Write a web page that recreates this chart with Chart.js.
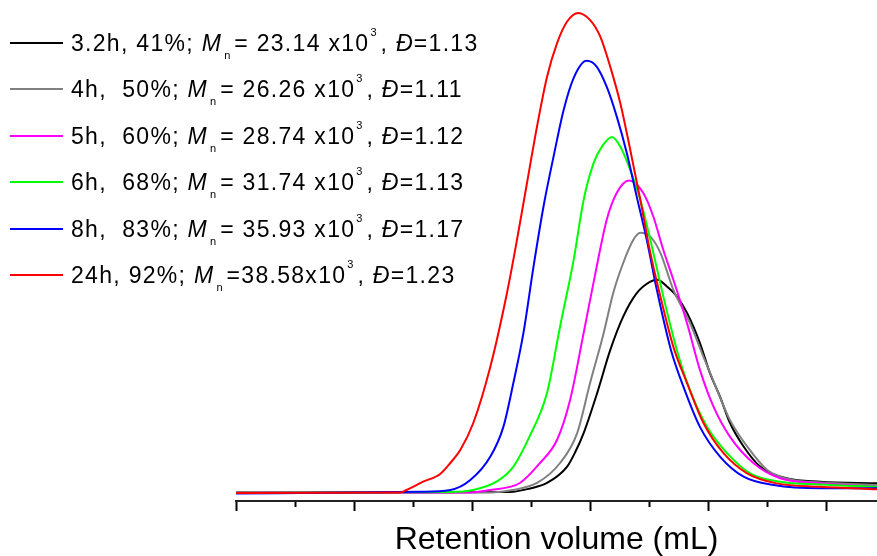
<!DOCTYPE html>
<html>
<head>
<meta charset="utf-8">
<script src="https://cdn.jsdelivr.net/npm/chart.js@4.4.1/dist/chart.umd.min.js"></script>
<style>
  html, body { margin: 0; padding: 0; background: #fff; }
  #wrap { position: relative; width: 877px; height: 556px; }
  #legend { position: absolute; left: 0; top: 0; font-family: "Liberation Sans", Arial, sans-serif; font-size: 23px; color: #000; }
  .row { position: absolute; left: 0; height: 23px; line-height: 23px; white-space: pre; }
  .swatch { position: absolute; left: 10px; top: 10px; width: 53px; height: 2px; }
  .txt { position: absolute; left: 71px; top: 0; letter-spacing: 1.3px; }
  .sub { position: relative; top: 8px; font-size: 11px; font-style: normal; letter-spacing: 0; margin-left: 2px; margin-right: 4px; }
  .sup { position: relative; top: -15px; font-size: 11px; letter-spacing: 0; margin-left: 1px; margin-right: 4px; }
</style>
</head>
<body>
<div id="wrap">
  <canvas id="myChart"></canvas>
  <div id="legend"></div>
</div>
<script>
const chart = document.querySelector("#myChart");

// series 1: 3.2 h
const vol32h = [10.0, 14.64, 14.98, 15.27, 15.61, 15.75, 15.89, 16.12, 16.34, 16.56, 16.79, 17.02, 17.14, 17.30, 17.47, 17.64, 17.86, 18.03, 18.20, 18.37, 18.60, 18.88, 19.33, 19.90, 20.86];
const sig32h = [-0.1, 0, 0.73, 1.88, 5.3, 8.4, 12.3, 20.7, 29.6, 36.6, 41.5, 43.9, 44.3, 42.9, 40.8, 37.4, 31.1, 24.8, 19.9, 14.4, 9.5, 5.3, 2.86, 2.15, 1.82];

// series 2: 4 h
const vol4h = [10.0, 14.31, 14.69, 15.10, 15.49, 15.78, 16.0, 16.23, 16.39, 16.56, 16.73, 16.85, 17.02, 17.19, 17.41, 17.69, 17.92, 18.15, 18.37, 18.66, 19.0, 19.44, 19.90, 20.86];
const sig4h = [-0.2, -0.1, 0.42, 1.88, 6.05, 12.3, 22.8, 33.2, 41.5, 47.8, 52.6, 54.1, 53.3, 49.9, 42.2, 35.3, 28.2, 21.3, 15.0, 9.5, 4.6, 2.5, 2.0, 1.46];

// series 3: 5 h
const vol5h = [10.0, 13.97, 14.31, 14.81, 15.15, 15.44, 15.66, 15.89, 16.11, 16.28, 16.45, 16.66, 16.90, 17.07, 17.24, 17.41, 17.64, 17.86, 18.09, 18.37, 18.77, 19.22, 19.90, 20.86];
const sig5h = [-0.2, -0.1, 0.42, 1.88, 6.05, 10.9, 19.2, 33.2, 47.0, 56.8, 62.4, 65.0, 62.4, 57.5, 50.5, 44.3, 35.3, 25.5, 17.8, 11.5, 6.0, 2.86, 1.82, 1.1];

// series 4: 6 h
const vol6h = [10.0, 13.63, 14.02, 14.42, 14.70, 14.97, 15.27, 15.49, 15.72, 15.89, 16.06, 16.20, 16.37, 16.51, 16.68, 16.85, 17.02, 17.24, 17.47, 17.69, 17.98, 18.32, 18.71, 19.22, 19.90, 20.86];
const sig6h = [-0.2, 0, 0.42, 2.2, 5.3, 11.5, 20.7, 34.5, 48.4, 61.0, 68.7, 72.1, 74.1, 72.1, 67.2, 61.0, 52.6, 40.8, 29.6, 21.3, 13.6, 8.1, 3.9, 2.15, 1.57, 1.1];

// series 5: 8 h
const vol8h = [10.0, 13.12, 13.63, 13.97, 14.31, 14.53, 14.70, 14.87, 15.04, 15.21, 15.38, 15.55, 15.72, 15.94, 16.11, 16.28, 16.45, 16.62, 16.79, 16.96, 17.13, 17.37, 17.58, 17.86, 18.20, 18.60, 19.11, 19.90, 20.86];
const sig8h = [-0.3, 0.06, 0.42, 2.5, 7.4, 13.6, 22.8, 33.2, 47.0, 59.6, 70.0, 79.7, 86.4, 90.0, 88.8, 84.6, 78.4, 70.8, 61.6, 52.6, 42.2, 29.6, 22.0, 13.6, 7.4, 3.2, 1.46, 0.77, 0.77];

// series 6: 24 h
const vol24h = [10.0, 12.78, 12.89, 13.17, 13.46, 13.63, 13.80, 14.02, 14.31, 14.59, 14.76, 14.93, 15.10, 15.27, 15.44, 15.61, 15.80, 16.0, 16.17, 16.34, 16.51, 16.68, 16.85, 17.02, 17.19, 17.41, 17.64, 17.92, 18.26, 18.66, 19.16, 19.90, 20.86];
const sig24h = [-0.2, -0.1, 0.42, 2.15, 3.76, 6.05, 8.77, 14.4, 26.2, 41.5, 52.6, 64.5, 76.3, 86.7, 93.7, 98.2, 100, 98.5, 95.1, 88.8, 81.2, 71.4, 61.0, 49.9, 40.8, 30.3, 22.8, 14.4, 8.1, 3.9, 1.8, 1.1, 0.56];

// legend text parts
const tiempos = ["3.2h,", "4h,", "5h,", "6h,", "8h,", "24h,"];
const separadores = [" ", "  ", "  ", "  ", "  ", " "];
const conversiones = ["41%; ", "50%; ", "60%; ", "68%; ", "83%; ", "92%; "];
const masas = ["= 23.14 x10", "= 26.26 x10", "= 28.74 x10", "= 31.74 x10", "= 35.93 x10", "=38.58x10"];
const dispersidades = ["=1.13", "=1.11", "=1.12", "=1.13", "=1.17", "=1.23"];
const colores = ["#000000", "#808080", "#ff00ff", "#00ff00", "#0000ff", "#ff0000"];

const volumenes = [vol32h, vol4h, vol5h, vol6h, vol8h, vol24h];
const senales = [sig32h, sig4h, sig5h, sig6h, sig8h, sig24h];

const armarPuntos = (xs, ys) => xs.map((x, i) => ({ x: x, y: ys[i] }));

const datasets = volumenes.map((vol, i) => ({
  label: tiempos[i],
  data: armarPuntos(vol, senales[i]),
  borderColor: colores[i],
  borderWidth: 2,
  pointRadius: 0,
  fill: false,
  cubicInterpolationMode: "monotone",
  order: volumenes.length - i,
}));

const leyendaHtml = {
  id: "leyendaHtml",
  afterUpdate(c) {
    const caja = document.getElementById("legend");
    caja.innerHTML = "";
    c.data.datasets.forEach((ds, i) => {
      const fila = document.createElement("div");
      fila.className = "row";
      fila.style.top = (41.5 + i * 46.5 - 10) + "px";
      fila.innerHTML =
        '<div class="swatch" style="background:' + ds.borderColor + '"></div>' +
        '<span class="txt">' + tiempos[i] + separadores[i] + conversiones[i] +
        '<i>M</i><span class="sub">n</span>' + masas[i] +
        '<span class="sup">3</span>, <i>Đ</i>' + dispersidades[i] + "</span>";
      caja.appendChild(fila);
    });
  },
};

const config = {
  type: "line",
  data: { datasets },
  options: {
    responsive: true,
    maintainAspectRatio: false,
    animation: false,
    layout: { padding: { left: 236, right: 0, top: 0, bottom: 0 } },
    plugins: { legend: { display: false }, tooltip: { enabled: false } },
    scales: {
      x: {
        type: "linear",
        min: 10,
        max: 20.86,
        ticks: { display: false, stepSize: 1, includeBounds: false },
        grid: {
          drawOnChartArea: false,
          tickLength: 10,
          tickWidth: 2,
          tickColor: "#000",
          tickBorderDash: (ctx) => (ctx.tick && ctx.tick.value % 2 !== 0 ? [5, 30] : []),
        },
        border: { color: "#222", width: 2 },
        title: {
          display: true,
          text: "Retention volume (mL)",
          color: "#000",
          font: { family: "'Liberation Sans', Arial, sans-serif", size: 32, lineHeight: 1 },
          padding: { top: 13, bottom: 0 },
        },
      },
      y: { display: false, min: -1.88, max: 102.7 },
    },
  },
  plugins: [leyendaHtml],
};

const myChart = new Chart(chart, config);
</script>
</body>
</html>
